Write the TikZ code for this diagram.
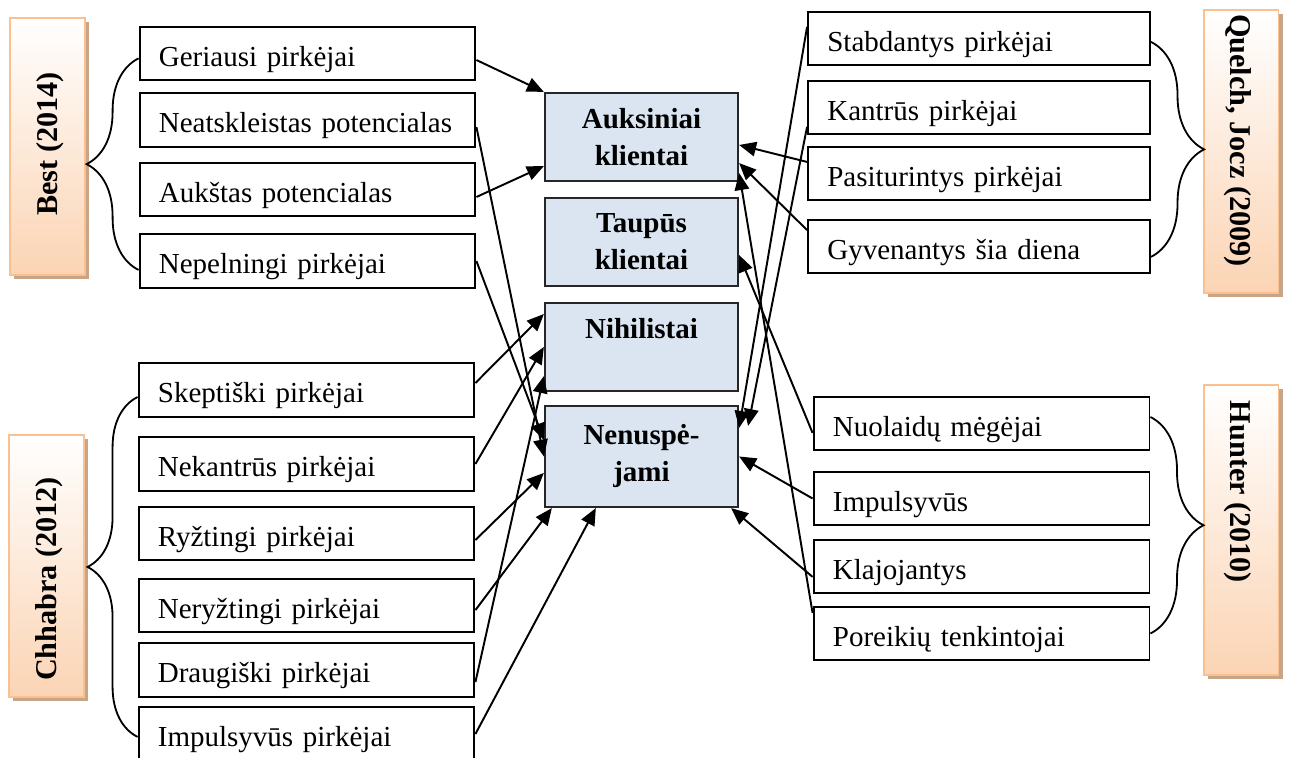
\documentclass[tikz,border=0pt]{standalone}
\usepackage{fontspec}
\setmainfont{Liberation Serif}
\usetikzlibrary{arrows.meta, shadows, decorations.pathreplacing}

\definecolor{midblue}{RGB}{219,229,241}
\definecolor{peach}{RGB}{251,212,180}
\definecolor{peachline}{RGB}{250,192,144}
\definecolor{peachshadow}{RGB}{200,165,135}

\tikzset{
  box/.style = {rectangle, draw=black, line width=0.8pt, minimum width=139pt, minimum height=22.3pt,
                text width=123pt, text height=10.5pt, text depth=0pt, align=left, inner xsep=8pt,
                font=\fontsize{12}{14}\selectfont},
  midbox/.style = {rectangle, draw=black!85, fill=midblue, line width=0.9pt, minimum width=79.9pt,
                   minimum height=36.4pt, align=center, font=\fontsize{12}{15.3}\selectfont\bfseries},
  authbox/.style = {rectangle, draw=peachline, line width=0.8pt, top color=white, bottom color=peach,
                    minimum width=31pt, drop shadow={shadow xshift=1.8pt, shadow yshift=-1.8pt, fill=peachshadow, opacity=1}},
  authtext/.style = {font=\fontsize{12.5}{14}\selectfont\bfseries, inner sep=0pt},
  arr/.style = {-{Triangle[length=7pt,width=6pt]}, line width=0.8pt},
  brc/.style = {decorate, decoration={brace, amplitude=#1}, line width=0.75pt}
}

\begin{document}
\begin{tikzpicture}[x=0.4138pt, y=-0.4138pt]
\useasboundingbox (0,0) rectangle (1289,758);

% Authors
\node[authbox, minimum height=106.3pt] (an1) at (47.5,146.5) {};
\node[authtext, rotate=90] (at1) at (50,144) {Best (2014)};
\node[authbox, minimum height=108.4pt] (an2) at (46.5,566) {};
\node[authtext, rotate=90] (at2) at (49,579) {Chhabra (2012)};
\node[authbox, minimum height=117.1pt] (an3) at (1241,151.5) {};
\node[authtext, rotate=-90] (at3) at (1238,140.5) {Quelch, Jocz (2009)};
\node[authbox, minimum height=120pt] (an4) at (1241,530) {};
\node[authtext, rotate=-90] (at4) at (1238,492) {Hunter (2010)};

% Best (2014)
\node[box] (bn1) at (307.5,53.5) {Geriausi pirkėjai};
\node[box] (bn2) at (307.5,120) {Neatskleistas potencialas};
\node[box] (bn3) at (307.5,189.5) {Aukštas potencialas};
\node[box] (bn4) at (307.5,261) {Nepelningi pirkėjai};

% Chhabra (2012)
\node[box] (cn1) at (306.5,390) {Skeptiški pirkėjai};
\node[box] (cn2) at (306.5,464) {Nekantrūs pirkėjai};
\node[box] (cn3) at (306.5,533.5) {Ryžtingi pirkėjai};
\node[box] (cn4) at (306.5,605.5) {Neryžtingi pirkėjai};
\node[box] (cn5) at (306.5,670) {Draugiški pirkėjai};
\node[box] (cn6) at (306.5,734) {Impulsyvūs pirkėjai};

% Segments (middle)
\node[midbox] (mn1) at (641.5,137) {Auksiniai\\klientai};
\node[midbox] (mn2) at (641.5,242) {Taupūs\\klientai};
\node[midbox] (mn3) at (641.5,347) {Nihilistai\\\phantom{x}};
\node[midbox, minimum height=41.8pt] (mn4) at (641.5,456.5) {Nenuspė-\\jami};

% Quelch, Jocz (2009)
\node[box, text width=125.5pt] (qn1) at (979,38.5) {Stabdantys pirkėjai};
\node[box, text width=125.5pt] (qn2) at (979,107.5) {Kantrūs pirkėjai};
\node[box, text width=125.5pt] (qn3) at (979,173.5) {Pasiturintys pirkėjai};
\node[box, text width=125.5pt] (qn4) at (979,246.5) {Gyvenantys šia diena};

% Hunter (2010)
\node[box] (hn1) at (981.5,423.5) {Nuolaidų mėgėjai};
\node[box] (hn2) at (981.5,498.5) {Impulsyvūs};
\node[box] (hn3) at (981.5,566.5) {Klajojantys};
\node[box] (hn4) at (981.5,633.5) {Poreikių tenkintojai};

% ----- BRACES -----
\draw[brc=21.5pt] ([yshift=-3.7pt]bn4.west) -- ([yshift=-2pt]bn1.west);
\draw[brc=20.7pt] ([yshift=-1.2pt]cn6.west) -- ([yshift=-2.9pt]cn1.west);
\draw[brc=22pt] ([yshift=-1.4pt]qn1.east) -- ([yshift=-4.3pt]qn4.east);
\draw[brc=22pt] ([yshift=2.7pt]hn1.east) -- (hn4.east);

% ----- ARROWS -----
% Best ->
\draw[arr] ([yshift=-2.7pt]bn1.east) -- (mn1.north west);
\draw[arr] ([yshift=-2.9pt]bn2.east) -- (mn4.west);
\draw[arr] ([yshift=-3.1pt]bn3.east) -- ([yshift=6.6pt]mn1.south west);
\draw[arr] (bn4.east) -- ([yshift=6.8pt]mn4.west);
% Chhabra ->
\draw[arr] ([yshift=2.9pt]cn1.east) -- ([yshift=-5pt]mn3.north west);
\draw[arr] (cn2.east) -- (mn3.west);
\draw[arr] ([yshift=-2.7pt]cn3.east) -- ([yshift=-6.8pt]mn4.west);
\draw[arr] ([yshift=-1.9pt]cn4.east) -- ([xshift=3.3pt]mn4.south west);
\draw[arr] ([yshift=-5pt]cn5.east) -- ([yshift=6.6pt]mn3.south west);
\draw[arr] (cn6.east) -- ([xshift=21.5pt]mn4.south west);
% Quelch, Jocz <-
\draw[arr] ([yshift=4.8pt]qn1.west) -- ([yshift=-9.5pt]mn4.north east);
\draw[arr] ([yshift=-8pt]qn2.west) -- ([xshift=3.7pt,yshift=-8.7pt]mn4.north east);
\draw[arr] ([yshift=4.8pt]qn3.west) -- ([yshift=-3.3pt]mn1.east);
\draw[arr] ([yshift=6.8pt]qn4.west) -- ([yshift=-10.8pt]mn1.east);
% Hunter <-
\draw[arr] ([yshift=-3.9pt]hn1.west) -- ([yshift=-5.4pt]mn2.east);
\draw[arr] (hn2.west) -- (mn4.east);
\draw[arr] ([yshift=-4.3pt]hn3.west) -- ([xshift=-3.3pt]mn4.south east);
\draw[arr] ([yshift=8.5pt]hn4.west) -- ([yshift=3.7pt]mn1.south east);

\end{tikzpicture}
\end{document}
